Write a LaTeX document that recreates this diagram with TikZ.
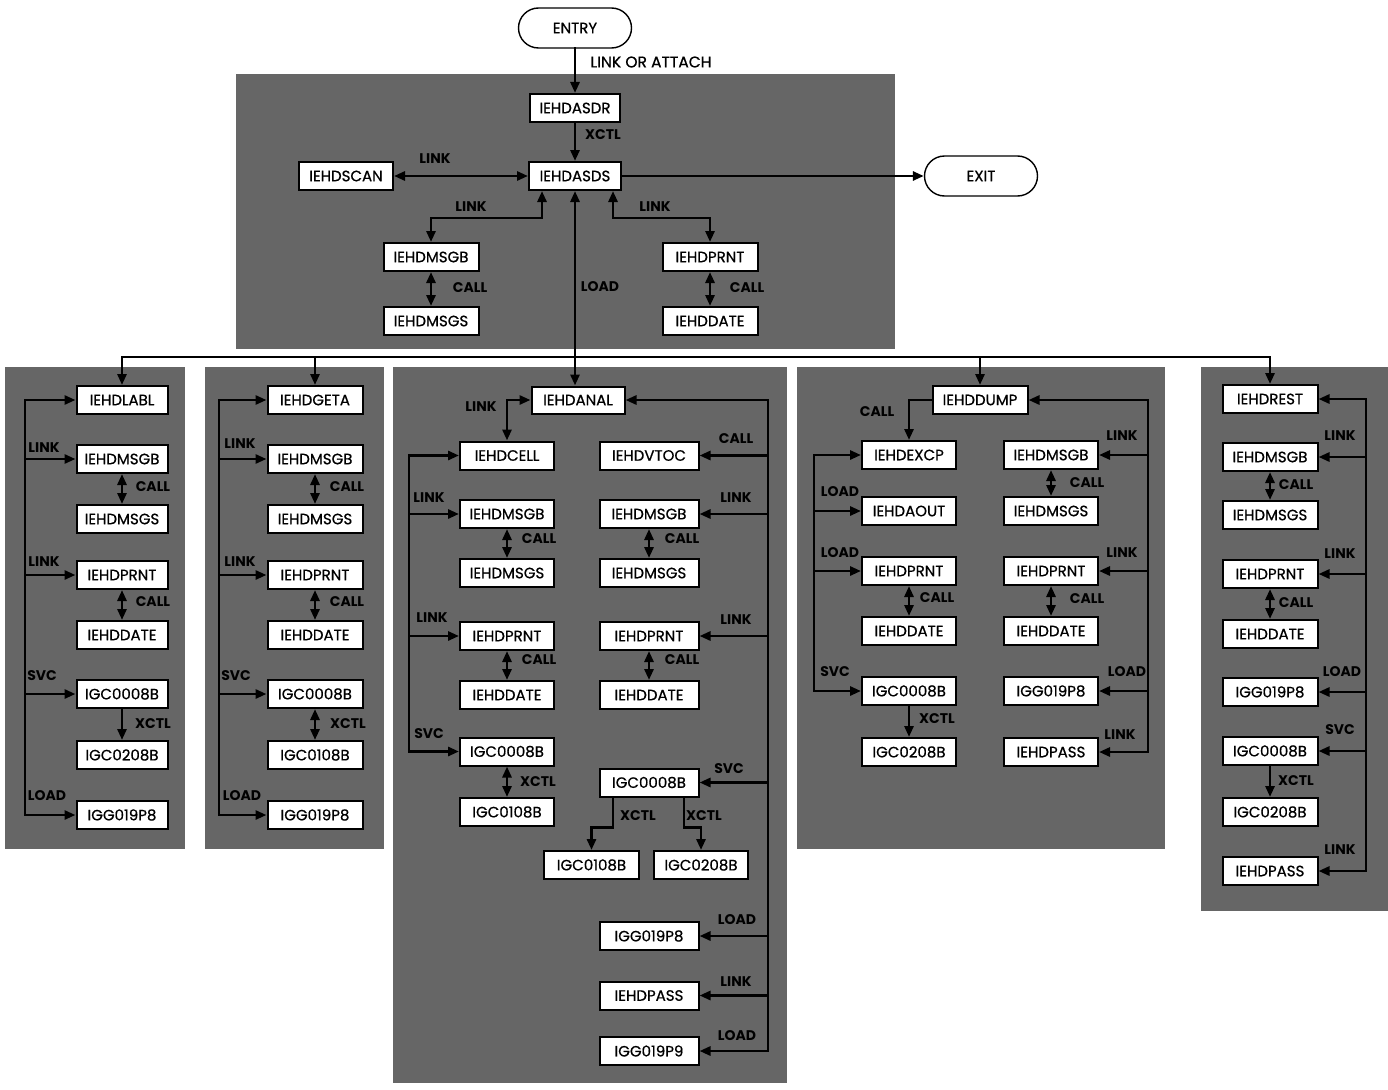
\documentclass[tikz,border=0pt]{standalone}
\usepackage{fontspec}
\setmainfont{Poppins}
\newfontfamily\modfont{Poppins}[FakeBold=0.7]
\usetikzlibrary{arrows.meta}
\definecolor{panel}{gray}{0.40}
\begin{document}
\begin{tikzpicture}[x=1pt,y=-1pt,
  mod/.style={draw, fill=white, line width=2pt, minimum height=28pt, inner sep=2pt, font=\modfont\fontsize{15}{17}\selectfont},
  term/.style={draw, fill=white, line width=1.4pt, rounded corners=20pt, minimum width=113pt, minimum height=40pt, font=\modfont\fontsize{15}{17}\selectfont},
  lab/.style={font=\bfseries\fontsize{14}{16}\selectfont, inner sep=0pt},
  plainlab/.style={font=\modfont\fontsize{15.5}{17}\selectfont, inner sep=0pt},
  wire/.style={line width=2.8pt, line cap=rect},
  arr/.style={wire, -{Triangle[length=11pt,width=9pt]}},
  dbl/.style={wire, {Triangle[length=11pt,width=9pt]}-{Triangle[length=11pt,width=9pt]}},
  pan/.style={fill=panel, draw=none},
  w90/.style={minimum width=91pt}, w94/.style={minimum width=94pt}, w95/.style={minimum width=95pt}, w99/.style={minimum width=99pt}
]
\useasboundingbox (0,0) rectangle (1388,1089);
\fill[white] (0,0) rectangle (1388,1089);
% panels
\fill[pan] (236,74) rectangle (895,349);
\fill[pan] (5,367) rectangle (185,849);
\fill[pan] (205,367) rectangle (384,849);
\fill[pan] (393,367) rectangle (787,1083);
\fill[pan] (797,367) rectangle (1165,849);
\fill[pan] (1201,367) rectangle (1388,911);

% ---------- top ----------
\node[term] (entry) at (575,28) {ENTRY};
\node[mod, minimum width=90pt] (asdr) at (575,108) {IEHDASDR};
\node[mod, minimum width=92pt] (asds) at (575,176) {IEHDASDS};
\node[mod, w94] (scan) at (346,176) {IEHDSCAN};
\node[term] (exit) at (981,176) {EXIT};
\node[mod, w95] (tmsgb) at (431,257) {IEHDMSGB};
\node[mod, w95] (tmsgs) at (431,321) {IEHDMSGS};
\node[mod, w95] (tprnt) at (710,257) {IEHDPRNT};
\node[mod, w95] (tdate) at (710,321) {IEHDDATE};

% ---------- panel 1 ----------
\node[mod, w90] (labl) at (122,400) {IEHDLABL};
\node[mod, w90] (p1b) at (122,459) {IEHDMSGB};
\node[mod, w90] (p1s) at (122,519) {IEHDMSGS};
\node[mod, w90] (p1p) at (122,575) {IEHDPRNT};
\node[mod, w90] (p1d) at (122,635) {IEHDDATE};
\node[mod, w90] (p1c) at (122,694) {IGC0008B};
\node[mod, w90] (p1x) at (122,755) {IGC0208B};
\node[mod, w90] (p1g) at (122,815) {IGG019P8};

% ---------- panel 2 ----------
\node[mod, w95] (geta) at (315,400) {IEHDGETA};
\node[mod, w95] (p2b) at (315,459) {IEHDMSGB};
\node[mod, w95] (p2s) at (315,519) {IEHDMSGS};
\node[mod, w95] (p2p) at (315,575) {IEHDPRNT};
\node[mod, w95] (p2d) at (315,635) {IEHDDATE};
\node[mod, w95] (p2c) at (315,694) {IGC0008B};
\node[mod, w95] (p2x) at (315,755) {IGC0108B};
\node[mod, w95] (p2g) at (315,815) {IGG019P8};

% ---------- panel 3 ----------
\node[mod, minimum width=93pt, minimum height=27pt] (anal) at (578,400) {IEHDANAL};
\node[mod, w94] (cell) at (507,455.5) {IEHDCELL};
\node[mod, w94] (p3lb) at (507,514) {IEHDMSGB};
\node[mod, w94] (p3ls) at (507,573) {IEHDMSGS};
\node[mod, w94] (p3lp) at (507,636) {IEHDPRNT};
\node[mod, w94] (p3ld) at (507,695) {IEHDDATE};
\node[mod, w94] (p3lc) at (507,751.5) {IGC0008B};
\node[mod, w94] (p3lx) at (507,812) {IGC0108B};
\node[mod, w99] (vtoc) at (649,455.5) {IEHDVTOC};
\node[mod, w99] (p3rb) at (649,514) {IEHDMSGB};
\node[mod, w99] (p3rs) at (649,573) {IEHDMSGS};
\node[mod, w99] (p3rp) at (649,636) {IEHDPRNT};
\node[mod, w99] (p3rd) at (649,695) {IEHDDATE};
\node[mod, w99] (p3rc) at (649,782.5) {IGC0008B};
\node[mod, w95] (p3xa) at (591.5,865) {IGC0108B};
\node[mod, w94] (p3xb) at (701,865) {IGC0208B};
\node[mod, w99] (p3rg) at (649,936) {IGG019P8};
\node[mod, w99] (p3rpass) at (649,995.5) {IEHDPASS};
\node[mod, w99] (p3r9) at (649,1051) {IGG019P9};

% ---------- panel 4 ----------
\node[mod, w95] (dump) at (980,400) {IEHDDUMP};
\node[mod, w94] (excp) at (909,455) {IEHDEXCP};
\node[mod, w94] (aout) at (909,511) {IEHDAOUT};
\node[mod, w94] (p4lp) at (909,571) {IEHDPRNT};
\node[mod, w94] (p4ld) at (909,631) {IEHDDATE};
\node[mod, w94] (p4lc) at (909,691) {IGC0008B};
\node[mod, w94] (p4lx) at (909,752) {IGC0208B};
\node[mod, w94] (p4rb) at (1051,455) {IEHDMSGB};
\node[mod, w94] (p4rs) at (1051,511) {IEHDMSGS};
\node[mod, w94] (p4rp) at (1051,571) {IEHDPRNT};
\node[mod, w94] (p4rd) at (1051,631) {IEHDDATE};
\node[mod, w94] (p4rg) at (1051,691) {IGG019P8};
\node[mod, w94] (p4rpass) at (1051,752) {IEHDPASS};

% ---------- panel 5 ----------
\node[mod, w95] (rest) at (1270,399) {IEHDREST};
\node[mod, w95] (p5b) at (1270,457) {IEHDMSGB};
\node[mod, w95] (p5s) at (1270,515) {IEHDMSGS};
\node[mod, w95] (p5p) at (1270,574) {IEHDPRNT};
\node[mod, w95] (p5d) at (1270,634) {IEHDDATE};
\node[mod, w95] (p5g) at (1270,692) {IGG019P8};
\node[mod, w95] (p5c) at (1270,751) {IGC0008B};
\node[mod, w95] (p5x) at (1270,812) {IGC0208B};
\node[mod, w95] (p5pass) at (1270,871) {IEHDPASS};

% ---------- top connectors ----------
\draw[arr] (entry) -- (asdr);
\draw[arr] (asdr) -- (asds);
\draw[dbl] (scan) -- (asds);
\draw[arr] (asds) -- (exit);
\draw[dbl] ([xshift=-33pt]asds.south) -- ++(0,27) -| (tmsgb.north);
\draw[dbl] ([xshift=38pt]asds.south) -- ++(0,27) -| (tprnt.north);
\draw[dbl] (tmsgb) -- (tmsgs);
\draw[dbl] (tprnt) -- (tdate);
\draw[dbl] (asds.south) -- (asds.south |- anal.north);

% bus
\coordinate (busl) at (122,357);
\coordinate (busr) at (1270,357);
\draw[line width=2.2pt] (busl) -- (busr);
\draw[arr] (busl) -- (labl.north);
\draw[arr] (315,357) -- (geta.north);
\draw[arr] (980,357) -- (dump.north);
\draw[arr] (busr) -- (rest.north);

% ---------- panel 1 connectors ----------
\coordinate (r1t) at (25,400);
\coordinate (r1b) at (25,815);
\draw[arr] (r1b) -- (r1t) -- (labl.west);
\draw[arr] (r1t |- p1b) -- (p1b.west);
\draw[arr] (r1t |- p1p) -- (p1p.west);
\draw[arr] (r1t |- p1c) -- (p1c.west);
\draw[arr] (r1b) -- (p1g.west);
\draw[dbl] (p1b) -- (p1s);
\draw[dbl] (p1p) -- (p1d);
\draw[arr] (p1c) -- (p1x);

% ---------- panel 2 connectors ----------
\coordinate (r2t) at (219,400);
\coordinate (r2b) at (219,815);
\draw[arr] (r2b) -- (r2t) -- (geta.west);
\draw[arr] (r2t |- p2b) -- (p2b.west);
\draw[arr] (r2t |- p2p) -- (p2p.west);
\draw[arr] (r2t |- p2c) -- (p2c.west);
\draw[arr] (r2b) -- (p2g.west);
\draw[dbl] (p2b) -- (p2s);
\draw[dbl] (p2p) -- (p2d);
\draw[dbl] (p2c) -- (p2x);

% ---------- panel 3 connectors ----------
\draw[dbl] (anal.west) -| (cell.north);
\coordinate (l3t) at (409,455.5);
\coordinate (l3b) at (409,751.5);
\draw[arr] (l3b) -- (l3t) -- (cell.west);
\draw[arr] (l3t |- p3lb) -- (p3lb.west);
\draw[arr] (l3t |- p3lp) -- (p3lp.west);
\draw[arr] (l3b) -- (p3lc.west);
\coordinate (r3t) at (768,400);
\coordinate (r3b) at (768,1051);
\draw[arr] (r3b) -- (r3t) -- (anal.east);
\draw[arr] (r3t |- vtoc) -- (vtoc.east);
\draw[arr] (r3t |- p3rb) -- (p3rb.east);
\draw[arr] (r3t |- p3rp) -- (p3rp.east);
\draw[arr] (r3t |- p3rc) -- (p3rc.east);
\draw[arr] (r3t |- p3rg) -- (p3rg.east);
\draw[arr] (r3t |- p3rpass) -- (p3rpass.east);
\draw[arr] (r3b) -- (p3r9.east);
\draw[dbl] (p3lb) -- (p3ls);
\draw[dbl] (p3rb) -- (p3rs);
\draw[dbl] (p3lp) -- (p3ld);
\draw[dbl] (p3rp) -- (p3rd);
\draw[dbl] (p3lc) -- (p3lx);
\draw[arr] ([xshift=-36pt]p3rc.south) -- ++(0,30) -| (p3xa.north);
\draw[arr] ([xshift=35pt]p3rc.south) -- ++(0,30) -| (p3xb.north);

% ---------- panel 4 connectors ----------
\draw[arr] (dump.west) -| (excp.north);
\coordinate (l4t) at (814,455);
\coordinate (l4b) at (814,691);
\draw[arr] (l4b) -- (l4t) -- (excp.west);
\draw[arr] (l4t |- aout) -- (aout.west);
\draw[arr] (l4t |- p4lp) -- (p4lp.west);
\draw[arr] (l4b) -- (p4lc.west);
\coordinate (r4t) at (1148,400);
\coordinate (r4b) at (1148,752);
\draw[arr] (r4b) -- (r4t) -- (dump.east);
\draw[arr] (r4t |- p4rb) -- (p4rb.east);
\draw[arr] (r4t |- p4rp) -- (p4rp.east);
\draw[arr] (r4t |- p4rg) -- (p4rg.east);
\draw[arr] (r4b) -- (p4rpass.east);
\draw[dbl] (p4lp) -- (p4ld);
\draw[arr] (p4lc) -- (p4lx);
\draw[dbl] (p4rb) -- (p4rs);
\draw[dbl] (p4rp) -- (p4rd);

% ---------- panel 5 connectors ----------
\coordinate (r5t) at (1366,399);
\coordinate (r5b) at (1366,871);
\draw[arr] (r5b) -- (r5t) -- (rest.east);
\draw[arr] (r5t |- p5b) -- (p5b.east);
\draw[arr] (r5t |- p5p) -- (p5p.east);
\draw[arr] (r5t |- p5g) -- (p5g.east);
\draw[arr] (r5t |- p5c) -- (p5c.east);
\draw[arr] (r5b) -- (p5pass.east);
\draw[dbl] (p5b) -- (p5s);
\draw[dbl] (p5p) -- (p5d);
\draw[arr] (p5c) -- (p5x);

% ---------- labels ----------
\node[plainlab] (lattach) at (651,62) {LINK OR ATTACH};
\node[lab] (lt1) at (603,135) {XCTL};
\node[lab] (lt2) at (435,159) {LINK};
\node[lab] (lt3) at (471,207) {LINK};
\node[lab] (lt4) at (655,207) {LINK};
\node[lab] (lt5) at (470,288) {CALL};
\node[lab] (lt6) at (600,287) {LOAD};
\node[lab] (lt7) at (747,288) {CALL};
% panel 1
\node[lab] (la1) at (44,448) {LINK};
\node[lab] (la2) at (44,562) {LINK};
\node[lab] (la3) at (42,676) {SVC};
\node[lab] (la4) at (47,796) {LOAD};
\node[lab] (la5) at (153,487) {CALL};
\node[lab] (la6) at (153,602) {CALL};
\node[lab] (la7) at (153,724) {XCTL};
% panel 2
\node[lab] (lb1) at (240,444) {LINK};
\node[lab] (lb2) at (240,562) {LINK};
\node[lab] (lb3) at (236,676) {SVC};
\node[lab] (lb4) at (242,796) {LOAD};
\node[lab] (lb5) at (347,487) {CALL};
\node[lab] (lb6) at (347,602) {CALL};
\node[lab] (lb7) at (348,724) {XCTL};
% panel 3
\node[lab] (lc1) at (481,407) {LINK};
\node[lab] (lc2) at (429,498) {LINK};
\node[lab] (lc3) at (432,618) {LINK};
\node[lab] (lc4) at (429,734) {SVC};
\node[lab] (lc5) at (736,439) {CALL};
\node[lab] (lc6) at (736,498) {LINK};
\node[lab] (lc7) at (736,620) {LINK};
\node[lab] (lc8) at (729,769) {SVC};
\node[lab] (lc9) at (737,920) {LOAD};
\node[lab] (lc10) at (736,982) {LINK};
\node[lab] (lc11) at (737,1036) {LOAD};
\node[lab] (lc12) at (539,539) {CALL};
\node[lab] (lc13) at (682,539) {CALL};
\node[lab] (lc14) at (539,660) {CALL};
\node[lab] (lc15) at (682,660) {CALL};
\node[lab] (lc16) at (538,782) {XCTL};
\node[lab] (lc17) at (638,816) {XCTL};
\node[lab] (lc18) at (704,816) {XCTL};
% panel 4
\node[lab] (ld1) at (877,412) {CALL};
\node[lab] (ld2) at (840,492) {LOAD};
\node[lab] (ld3) at (840,553) {LOAD};
\node[lab] (ld4) at (835,672) {SVC};
\node[lab] (ld5) at (1122,436) {LINK};
\node[lab] (ld6) at (1087,483) {CALL};
\node[lab] (ld7) at (1122,553) {LINK};
\node[lab] (ld8) at (1087,599) {CALL};
\node[lab] (ld9) at (1127,672) {LOAD};
\node[lab] (ld10) at (1120,735) {LINK};
\node[lab] (ld11) at (937,598) {CALL};
\node[lab] (ld12) at (937,719) {XCTL};
% panel 5
\node[lab] (le1) at (1340,436) {LINK};
\node[lab] (le2) at (1296,485) {CALL};
\node[lab] (le3) at (1340,554) {LINK};
\node[lab] (le4) at (1296,603) {CALL};
\node[lab] (le5) at (1342,672) {LOAD};
\node[lab] (le6) at (1340,730) {SVC};
\node[lab] (le7) at (1296,781) {XCTL};
\node[lab] (le8) at (1340,850) {LINK};
\end{tikzpicture}
\end{document}
